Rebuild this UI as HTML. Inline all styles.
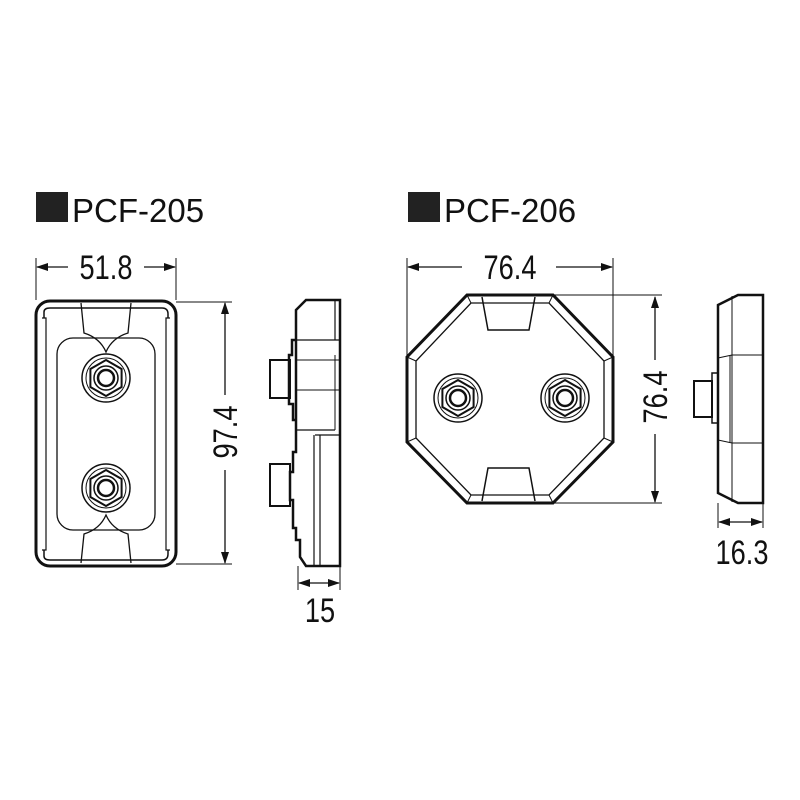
<!DOCTYPE html><html><head><style>body{margin:0;background:#fff}svg{display:block}text{font-family:"Liberation Sans",sans-serif;fill:#111}</style></head><body>
<svg width="800" height="800" viewBox="0 0 800 800" xmlns="http://www.w3.org/2000/svg">
<defs>
<marker id="a" markerWidth="12" markerHeight="8" refX="11" refY="4" orient="auto-start-reverse" markerUnits="userSpaceOnUse"><path d="M0,0 L12,4 L0,8 Z" fill="#111"/></marker>
<g id="nut"><circle r="24" fill="none" stroke="#111" stroke-width="1.5"/><circle r="20" fill="none" stroke="#111" stroke-width="1"/><polygon points="0,-18 15.6,-9 15.6,9 0,18 -15.6,9 -15.6,-9" fill="none" stroke="#111" stroke-width="2"/><circle r="12" fill="none" stroke="#111" stroke-width="1.5"/><circle r="8" fill="none" stroke="#111" stroke-width="2.5"/></g>
</defs>
<rect x="36" y="192" width="32" height="30" fill="#222"/>
<text x="72" y="222" font-size="33">PCF-205</text>
<rect x="408" y="192" width="32" height="30" fill="#222"/>
<text x="444" y="222" font-size="33">PCF-206</text>
<g stroke="#111" fill="none">
<rect x="36" y="301" width="140" height="265" rx="14" stroke-width="3"/>
<path d="M44,318 V312 Q44,308 50,308 H162 Q168,308 168,314 V318 M44,550 V556 Q44,560 50,560 H162 Q168,560 168,554 V550" stroke-width="1.5"/>
<path d="M42,318 H46 V550 H42 M170,318 H166 V550 H170" stroke-width="1.2"/>
<rect x="57" y="338" width="98" height="192" rx="16" stroke-width="1.3"/>
<path d="M81,303 L84,333 Q100,338 106,352 Q112,338 128,333 L131,303" stroke-width="1.3"/>
<path d="M81,563 L84,534 Q100,529 106,515 Q112,529 128,534 L131,563" stroke-width="1.3"/>
<use href="#nut" x="106" y="378"/><use href="#nut" x="106" y="488"/>
<path d="M296,310 L306,300 H340 V566 H306 L300,557 V540 H296 V528 H293 V500 H290 V472 H293 V452 H296 V340 H292 V355 H289 V404 H293 V420 H296 Z" stroke-width="2.5"/>
<path d="M335,300 V340 M296,340 H340 M296,430 H335 M315,435 H340 M320,435 V566 M314,435 V566" stroke-width="1.2"/>
<path d="M296,360 H340 M296,390 H340 M335,355 V430" stroke-width="1"/>
<rect x="270" y="360" width="20" height="38" stroke-width="2"/>
<rect x="270" y="464" width="20" height="42" stroke-width="2"/>
<path d="M36,258 V300 M176,258 V300 M176,302 H232 M176,564 H232 M298,566 V590 M340,566 V590 M718,503 V528 M763,503 V528 M553,295 H662 M553,503 H662 M407,258 V356 M613,258 V356" stroke-width="1"/>
<g stroke-width="1.3">
<line x1="68" y1="267" x2="37" y2="267" marker-end="url(#a)"/>
<line x1="144" y1="267" x2="175" y2="267" marker-end="url(#a)"/>
<line x1="225" y1="395" x2="225" y2="303" marker-end="url(#a)"/>
<line x1="225" y1="470" x2="225" y2="563" marker-end="url(#a)"/>
<line x1="299" y1="583" x2="339" y2="583" marker-start="url(#a)" marker-end="url(#a)"/>
<line x1="462" y1="267" x2="408" y2="267" marker-end="url(#a)"/>
<line x1="556" y1="267" x2="612" y2="267" marker-end="url(#a)"/>
<line x1="655" y1="360" x2="655" y2="297" marker-end="url(#a)"/>
<line x1="655" y1="434" x2="655" y2="502" marker-end="url(#a)"/>
<line x1="719" y1="522" x2="762" y2="522" marker-start="url(#a)" marker-end="url(#a)"/>
</g>
<polygon points="467,295 553,295 613,357 613,442 553,503 467,503 407,442 407,357" stroke-width="3"/>
<polygon points="471,303 549,303 604,361 604,438 549,495 471,495 416,438 416,361" stroke-width="1.3"/>
<path d="M467,295 L471,303 M553,295 L549,303 M613,357 L604,361 M613,442 L604,438 M553,503 L549,495 M467,503 L471,495 M407,442 L416,438 M407,357 L416,361" stroke-width="1"/>
<path d="M482,297 L488,330 H529 L535,297 M482,501 L488,468 H529 L535,501" stroke-width="1.5"/>
<use href="#nut" x="458" y="398"/><use href="#nut" x="565" y="398"/>
<path d="M718,305 L738,295 H763 V503 H738 L718,493 Z" stroke-width="2.5"/>
<path d="M718,358 L732,355 H763 M718,440 L732,443 H763 M730,355 V443 M732,296 V502" stroke-width="1"/>
<rect x="712" y="373" width="6" height="50" stroke-width="1.5"/>
<rect x="694" y="381" width="18" height="36" stroke-width="2"/>
</g>
<g font-size="34">
<text transform="translate(106,279) scale(0.8,1)" text-anchor="middle">51.8</text>
<text transform="translate(320,622) scale(0.8,1)" text-anchor="middle">15</text>
<text transform="translate(510,279) scale(0.8,1)" text-anchor="middle">76.4</text>
<text transform="translate(742,564) scale(0.8,1)" text-anchor="middle">16.3</text>
<text transform="translate(237,432) rotate(-90) scale(0.8,1)" text-anchor="middle">97.4</text>
<text transform="translate(667,397) rotate(-90) scale(0.8,1)" text-anchor="middle">76.4</text>
</g>
</svg>
</body></html>
